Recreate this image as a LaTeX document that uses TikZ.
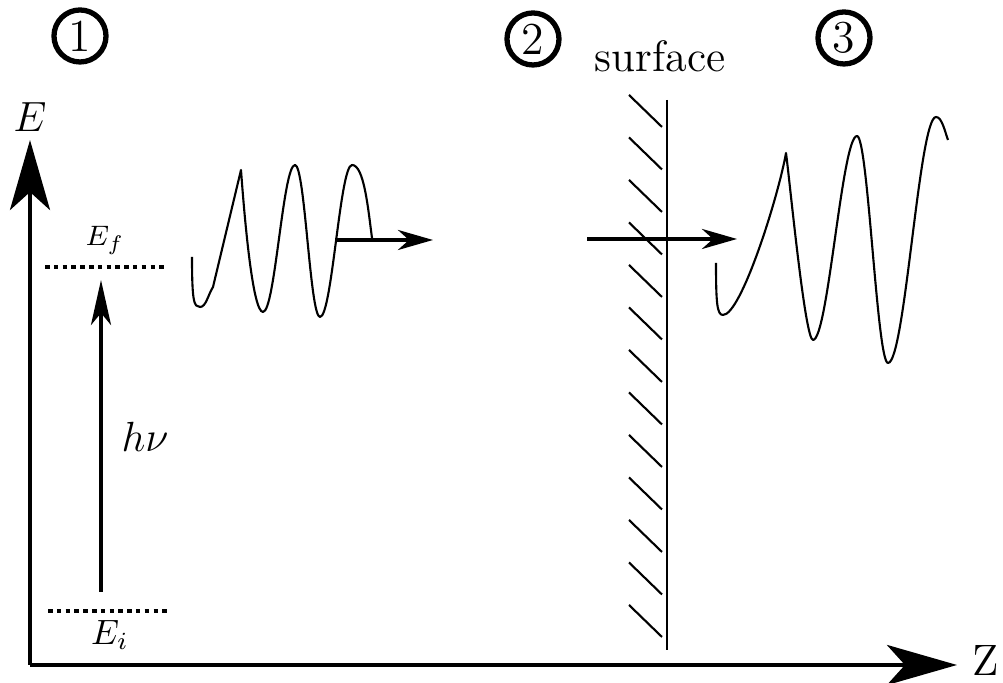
\documentclass[tikz,border=0pt]{standalone}
\usepackage{amsmath}
\usepackage{tikz}
\usetikzlibrary{arrows.meta,positioning}
\tikzset{
  ax/.style={line width=1.3pt,-{Stealth[length=7mm,width=4mm,inset=1.8mm]}},
  pho/.style={line width=1.1pt,-{Stealth[length=4.5mm,width=2mm,inset=1.2mm]}},
  mov/.style={line width=1.1pt,-{Stealth[length=3.5mm,width=2mm,inset=1.1mm]}},
  lev/.style={line width=1.1pt,dash pattern=on 1.3pt off 1.2pt},
  wave/.style={line width=0.6pt,line join=round},
  wall/.style={line width=0.6pt},
  num/.style={circle,draw,line width=1.5pt,minimum size=5.2mm,inner sep=0pt,font=\fontsize{13}{13}\selectfont},
  lab/.style={inner sep=0pt,font=\fontsize{13}{15}\selectfont},
}
\begin{document}
\begin{tikzpicture}[x=0.01cm,y=0.01cm]
  \useasboundingbox (0,0) rectangle (1003,683);
  % axes
  \coordinate (O) at (30,18);
  \coordinate (Etip) at (30,543);
  \coordinate (Ztip) at (957,18);
  \draw[ax] (O)--(Etip);
  \draw[ax] (O)--(Ztip);
  \node[lab] (E) at (30,566){$E$};
  \node[lab,font=\fontsize{12.5}{14}\selectfont] (Z) at (986,22){Z};
  % levels and photon
  \coordinate (f1) at (45,416); \coordinate (f2) at (168,416);
  \coordinate (i1) at (48,72);  \coordinate (i2) at (170,72);
  \draw[lev] (f1)--(f2);
  \draw[lev] (i1)--(i2);
  \node[inner sep=0pt,font=\fontsize{8.5}{9}\selectfont] (Ef) at (105,443){$E_f$};
  \node[inner sep=0pt,font=\fontsize{10}{11}\selectfont] (Ei) at (110,48){$E_i$};
  \coordinate (p1) at (101,91); \coordinate (p2) at (101,403);
  \draw[pho] (p1)--(p2);
  \node[lab,font=\fontsize{12.5}{14}\selectfont] (hv) at (145,246){$h\nu$};
  % steps
  \node[num] (n1) at (80,647){1};
  \node[num] (n2) at (533,644){2};
  \node[num] (n3) at (844,645){3};
  % wave inside (left)
  \draw[wave] (192,426) .. controls +(0,-45) and +(-6,0) .. (200,376)
    .. controls +(6,0) and +(-5,-8) .. (213,396) -- (241,513)
    .. controls +(4,-55) and +(-10,0) .. (263,371)
    .. controls +(12,0) and +(-12,0) .. (295,518)
    .. controls +(10,0) and +(-10,0) .. (320,366)
    .. controls +(12,0) and +(-12,0) .. (352,518)
    .. controls +(12,0) and +(-4,30) .. (372,445);
  \coordinate (a1) at (335,443); \coordinate (a2) at (433,443);
  \draw[mov] (a1)--(a2);
  % surface
  \node[inner sep=0pt,anchor=base,font=\fontsize{12.5}{14}\selectfont] (surf) at (660,611){surface};
  \coordinate (s1) at (667,583); \coordinate (s2) at (667,33);
  \draw[wall] (s1)--(s2);
  \foreach \k in {0,...,12}
    \draw[wall] (629,{588-42.5*\k})--++(33,-32);
  \coordinate (b1) at (587,444); \coordinate (b2) at (737,444);
  \draw[mov] (b1)--(b2);
  % wave outside (right)
  \draw[wave] (716,420) .. controls +(0,-40) and +(-6,0) .. (723,368)
    .. controls +(18,0) and +(-8,-45) .. (786,530)
    .. controls +(4,-30) and +(-8,0) .. (813,343)
    .. controls +(15,0) and +(-15,0) .. (857,547)
    .. controls +(11,0) and +(-11,0) .. (888,320)
    .. controls +(17,0) and +(-17,0) .. (936,566)
    .. controls +(6,0) and +(-3,8) .. (948,543);
\end{tikzpicture}
\end{document}
